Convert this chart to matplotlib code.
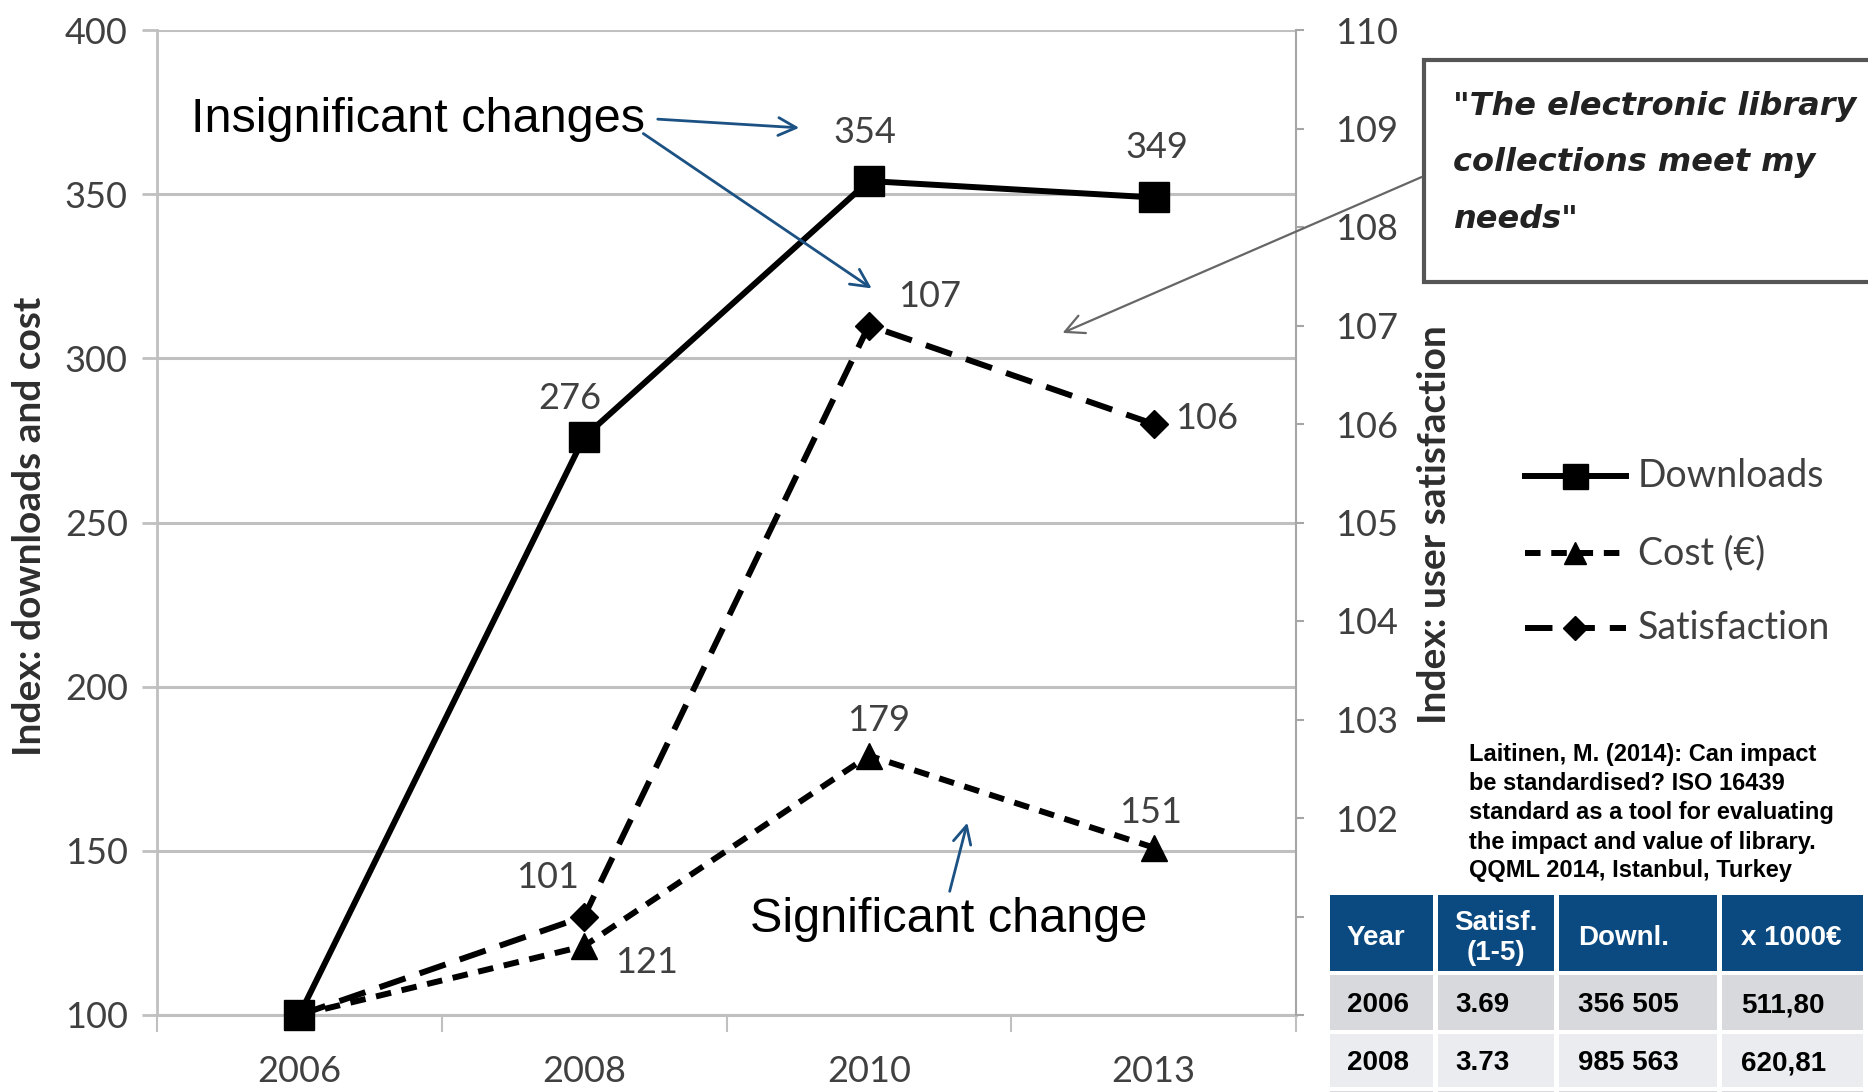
import matplotlib
matplotlib.use('Agg')
import matplotlib.pyplot as plt
from matplotlib.patches import Rectangle

# data
years = ['2006', '2008', '2010', '2013']
downloads = [100, 276, 354, 349]
cost = [100, 121, 179, 151]
satisfaction = [100, 101, 107, 106]
series_names = ['Downloads', 'Cost (€)', 'Satisfaction']

quote_lines = ['"The electronic library', 'collections meet my', 'needs"']
citation_lines = ['Laitinen, M. (2014): Can impact',
                  'be standardised? ISO 16439',
                  'standard as a tool for evaluating',
                  'the impact and value of library.',
                  'QQML 2014, Istanbul, Turkey']

table_header = ['Year', 'Satisf.\n(1-5)', 'Downl.', 'x 1000€']
table_year = ['2006', '2008']
table_satisf = ['3.69', '3.73']
table_downl = ['356 505', '985 563']
table_cost = ['511,80', '620,81']

W, H = 1868, 1092
plt.rcParams['font.family'] = ['Lato', 'DejaVu Sans']

TXT = '#404040'
GRID = '#c0c0c0'
BLUE = '#1b5183'
LW = 4.3

fig = plt.figure(figsize=(W / 100, H / 100), dpi=100)
fig.patch.set_facecolor('white')

# main axes (pixel box: left 157, right 1296, top 30, bottom 1015)
ax = fig.add_axes([157 / W, 1 - 1015 / H, (1296 - 157) / W, (1015 - 30) / H])
x = list(range(len(years)))
ax.set_xlim(-0.5, len(years) - 0.5)
ax.set_ylim(100, 400)
ax.set_yticks(range(100, 401, 50))
ax.yaxis.grid(True, color=GRID, lw=2.2)
ax.set_axisbelow(True)
for s in ['top', 'right']:
    ax.spines[s].set_visible(False)
ax.spines['left'].set_color(GRID)
ax.spines['left'].set_linewidth(2)
ax.spines['bottom'].set_color(GRID)
ax.spines['bottom'].set_linewidth(2.2)
ax.tick_params(axis='y', length=11, width=2, color=GRID, pad=10,
               labelsize=26, labelcolor=TXT)
ax.set_xticks(x)
ax.set_xticklabels(years)
ax.set_xticks([i - 0.5 for i in range(len(years) + 1)], minor=True)
ax.tick_params(axis='x', which='major', length=0, pad=29, labelsize=26, labelcolor=TXT)
ax.tick_params(axis='x', which='minor', length=12, width=1.5, color=GRID)

ax.plot(x, downloads, color='black', lw=LW, marker='s', ms=21, clip_on=False, zorder=5)
ax.plot(x, cost, color='black', lw=LW, dashes=(2.6, 1.8), marker='^', ms=19,
        clip_on=False, zorder=4)

ax2 = ax.twinx()
ax2.set_ylim(100, 110)
ax2.set_yticks(range(100, 111))
# the two lowest labels sit under the table in the original
ax2.set_yticklabels(['', ''] + [str(v) for v in range(102, 111)])
for s in ['top', 'left', 'bottom']:
    ax2.spines[s].set_visible(False)
ax2.spines['right'].set_color('#a6a6a6')
ax2.spines['right'].set_linewidth(1.5)
ax2.tick_params(axis='y', length=6, width=1.5, color='#a6a6a6', pad=22,
                labelsize=26, labelcolor=TXT)
ax2.plot(x, satisfaction, color='black', lw=LW, dashes=(4.6, 2.5), marker='D', ms=14,
         clip_on=False, zorder=4)

# data labels
lab = dict(fontsize=26, color=TXT, textcoords='offset points', ha='center', va='center')
dl_off = [None, (-10, 28), (-3, 35), (2, 36)]
for i, v in enumerate(downloads):
    if dl_off[i]:
        ax.annotate(str(v), (x[i], v), xytext=dl_off[i], **lab)
ct_off = [None, (45, -12), (7, 25), (-2, 25)]
for i, v in enumerate(cost):
    if ct_off[i]:
        ax.annotate(str(v), (x[i], v), xytext=ct_off[i], **lab)
st_off = [None, (-26, 28), (44, 21), (38, 4)]
for i, v in enumerate(satisfaction):
    if st_off[i]:
        ax2.annotate(str(v), (x[i], v), xytext=st_off[i], **lab)

# axis titles
fig.text(30 / W, 1 - 526 / H, 'Index: downloads and cost', rotation=90, ha='center',
         va='center', fontsize=28, fontweight='bold', color='#2e2e2e')
fig.text(1434 / W, 1 - 525 / H, 'Index: user satisfaction', rotation=90, ha='center',
         va='center', fontsize=28, fontweight='bold', color='#2e2e2e')

# overlay in pixel coordinates for annotations, legend, quote box and table
ov = fig.add_axes([0, 0, 1, 1], zorder=10)
ov.set_xlim(0, W)
ov.set_ylim(H, 0)
ov.axis('off')
ov.patch.set_alpha(0)

# blue annotations
arrow_kw = dict(arrowstyle='->', color=BLUE, lw=2.0, mutation_scale=32)
ov.text(191, 119, 'Insignificant changes', fontsize=35, family='Liberation Sans',
        va='center', ha='left')
ov.annotate('', xy=(802, 128), xytext=(655, 119), arrowprops=arrow_kw)
ov.annotate('', xy=(874, 290), xytext=(641, 132), arrowprops=arrow_kw)
ov.text(750, 920, 'Significant change', fontsize=35, family='Liberation Sans',
        va='center', ha='left')
ov.annotate('', xy=(968, 820), xytext=(949, 894), arrowprops=arrow_kw)

# quote box
ov.add_patch(Rectangle((1424, 60), 600, 222, facecolor='white', edgecolor='#555555', lw=3))
for i, line in enumerate(quote_lines):
    ov.text(1453, 106 + i * 57, line, fontsize=23, family='DejaVu Sans', fontweight='bold',
            style='italic', color='#222222', va='center', ha='left')
ov.annotate('', xy=(1060, 334), xytext=(1424, 176),
            arrowprops=dict(arrowstyle='->', color='#666666', lw=1.6, mutation_scale=34))

# legend
leg_y = [476, 553, 628]
leg_style = [dict(ls='-', marker='s', ms=18),
             dict(dashes=(2.6, 1.8), marker='^', ms=16),
             dict(dashes=(4.6, 2.5), marker='D', ms=12)]
for name, yy, st in zip(series_names, leg_y, leg_style):
    line_kw = {k: v for k, v in st.items() if k not in ('marker', 'ms')}
    ov.plot([1525, 1626], [yy, yy], color='black', lw=LW, **line_kw)
    ov.plot([1575], [yy], color='black', marker=st['marker'], ms=st['ms'], ls='none')
    ov.text(1638, yy, name, fontsize=27, color=TXT, va='center', ha='left')

# citation
for i, line in enumerate(citation_lines):
    ov.text(1469, 755 + i * 29, line, fontsize=17, family='Liberation Sans', fontweight='bold',
            color='black', va='center', ha='left')

# table
col_x = [1330, 1438, 1559, 1722, 1868]
row_y = [895, 975, 1034, 1091, 1150]
fills = ['#0b4a80', '#d8d9dd', '#ebecef', '#d8d9dd']
for r in range(4):
    for c in range(4):
        ov.add_patch(Rectangle((col_x[c], row_y[r]), col_x[c + 1] - col_x[c] - 5,
                               row_y[r + 1] - row_y[r] - 4, facecolor=fills[r],
                               edgecolor='none'))
cell_font = dict(fontsize=20, family='Liberation Sans', fontweight='bold', va='center')
ov.text(1347, 938, table_header[0], color='white', ha='left', **cell_font)
ov.text(1496, 938, table_header[1], color='white', ha='center', linespacing=1.15, **cell_font)
ov.text(1578, 938, table_header[2], color='white', ha='left', **cell_font)
ov.text(1741, 938, table_header[3], color='white', ha='left', **cell_font)
rows = list(zip(table_year, table_satisf, table_downl, table_cost))
text_x = [1347, 1455, 1578, 1741]
for r, vals in enumerate(rows):
    cy = (row_y[r + 1] + row_y[r + 2] - 4) / 2 + 3
    for tx, v in zip(text_x, vals):
        ov.text(tx, cy, v, color='black', ha='left', **cell_font)

fig.savefig('out.png', dpi=100)
